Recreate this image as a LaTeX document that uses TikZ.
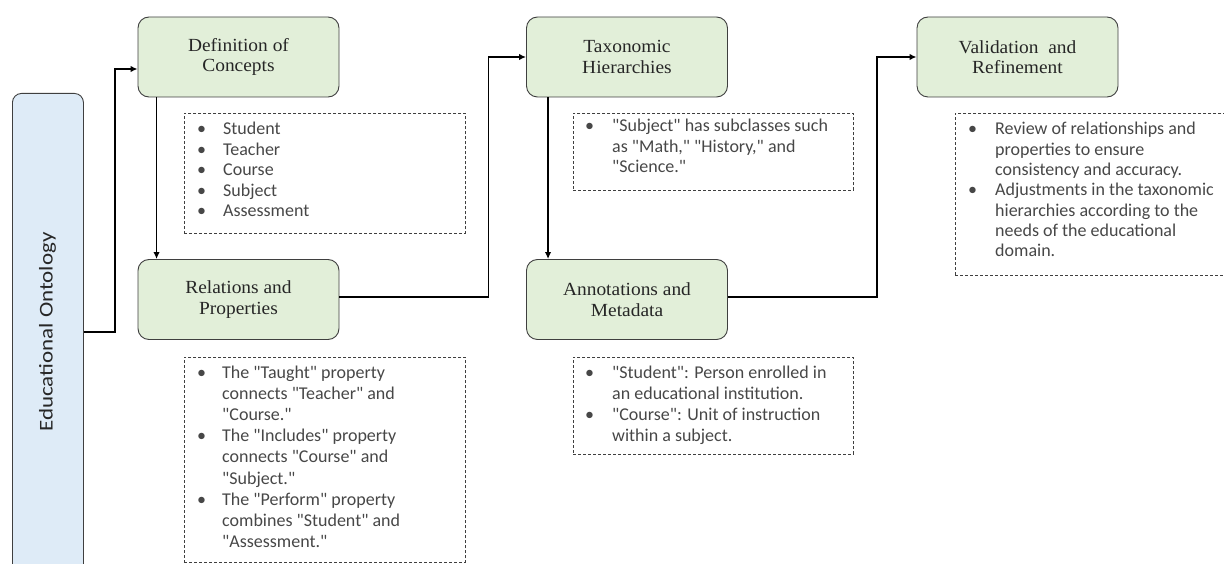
\documentclass[tikz,border=0pt]{standalone}
\usepackage{fontspec}
\newfontfamily\calib{Carlito}
\newfontfamily\calibw[FakeStretch=1.18]{Carlito}
\newfontfamily\serifw[FakeStretch=1.05]{Liberation Serif}
\usetikzlibrary{arrows.meta,calc}
\definecolor{boxgreen}{HTML}{E2EFD9}
\definecolor{boxblue}{HTML}{DEEBF7}
\definecolor{edgecol}{HTML}{3F3F3F}
\definecolor{graytext}{HTML}{474747}
\definecolor{darktext}{HTML}{262626}
\tikzset{
  stage/.style={draw=edgecol, line width=0.9pt, fill=boxgreen, rounded corners=11pt,
    minimum width=201pt, minimum height=80pt, inner sep=0pt, align=center,
    font=\serifw\fontsize{18.5}{20.5}\selectfont, text=darktext},
  dbox/.style={draw=edgecol, line width=0.7pt, dash pattern=on 3pt off 2pt, inner sep=0pt, anchor=north west},
  btext/.style={inner sep=0pt, anchor=base west, text=graytext, font=\calib\fontsize{18}{20.5}\selectfont},
  link/.style={line width=1.5pt, -{Latex[length=7pt,width=6.5pt]}}
}
\begin{document}
\begin{tikzpicture}[x=1pt,y=-1pt]
\useasboundingbox (0,0) rectangle (1224,564);
% left box
\node[draw=edgecol, fill=boxblue, rounded corners=9pt, line width=0.9pt, minimum width=71pt,
  minimum height=540pt, anchor=north west, inner sep=0pt] (onto) at (12,93) {};
\node[rotate=90, font=\calibw\fontsize{19.5}{22}\selectfont, text=darktext, inner sep=0pt] (ontolbl) at (47.5,332) {Educational Ontology};
% stages
\node[stage] (def) at (238.5,57) {Definition of\\Concepts};
\node[stage] (rel) at (238.5,299.5) {Relations and\\Properties};
\node[stage] (tax) at (627,57) {Taxonomic\\Hierarchies};
\node[stage] (ann) at (627,299.5) {Annotations and\\Metadata};
\node[stage] (val) at (1017.5,57) {Validation\ \ and\\Refinement};
% connectors
\draw[link] ([yshift=-239pt]onto.north east) -- ++(31,0) |- ([yshift=-12pt]def.west);
\draw[link] ([xshift=19pt]def.south west) -- ([xshift=19pt]rel.north west);
\draw[link] ([yshift=2.5pt]rel.east) -- ++(149,0) |- (tax.west);
\draw[link] ([xshift=22pt]tax.south west) -- ([xshift=22pt]ann.north west);
\draw[link] ([yshift=2.5pt]ann.east) -- ++(149,0) |- (val.west);
% dashed boxes
\node[dbox, minimum width=281pt, minimum height=120pt] (d1) at (184,113) {};
\node[dbox, minimum width=281pt, minimum height=205pt] (d2) at (184,357) {};
\node[dbox, minimum width=280pt, minimum height=77pt] (d3) at (573,113) {};
\node[dbox, minimum width=280pt, minimum height=97pt] (d4) at (573,357) {};
\node[dbox, minimum width=272pt, minimum height=162pt] (d5) at (955,113) {};
% texts
\node[btext] (t1) at ([xshift=13pt,yshift=-22pt]d1.north west) {\begin{tabular}[t]{@{}p{26pt}@{}l@{}}
• & Student\\
• & Teacher\\
• & Course\\
• & Subject\\
• & Assessment
\end{tabular}};
\node[btext, font=\calib\fontsize{18}{21.2}\selectfont] (t2) at ([xshift=13pt,yshift=-21pt]d2.north west) {\begin{tabular}[t]{@{}p{25pt}@{}l@{}}
• & The "Taught" property\\
  & connects "Teacher" and\\
  & "Course."\\
• & The "Includes" property\\
  & connects "Course" and\\
  & "Subject."\\
• & The "Perform" property\\
  & combines "Student" and\\
  & "Assessment."
\end{tabular}};
\node[btext] (t3) at ([xshift=12pt,yshift=-19pt]d3.north west) {\begin{tabular}[t]{@{}p{27pt}@{}l@{}}
• & "Subject" has subclasses such\\
  & as "Math," "History," and\\
  & "Science."
\end{tabular}};
\node[btext, font=\calib\fontsize{18}{21}\selectfont] (t4) at ([xshift=12pt,yshift=-21pt]d4.north west) {\begin{tabular}[t]{@{}p{27pt}@{}l@{}}
• & "Student": Person enrolled in\\
  & an educational institution.\\
• & "Course": Unit of instruction\\
  & within a subject.
\end{tabular}};
\node[btext, font=\calib\fontsize{18}{20.3}\selectfont] (t5) at ([xshift=13pt,yshift=-22pt]d5.north west) {\begin{tabular}[t]{@{}p{27pt}@{}l@{}}
• & Review of relationships and\\
  & properties to ensure\\
  & consistency and accuracy.\\
• & Adjustments in the taxonomic\\
  & hierarchies according to the\\
  & needs of the educational\\
  & domain.
\end{tabular}};
\end{tikzpicture}
\end{document}
